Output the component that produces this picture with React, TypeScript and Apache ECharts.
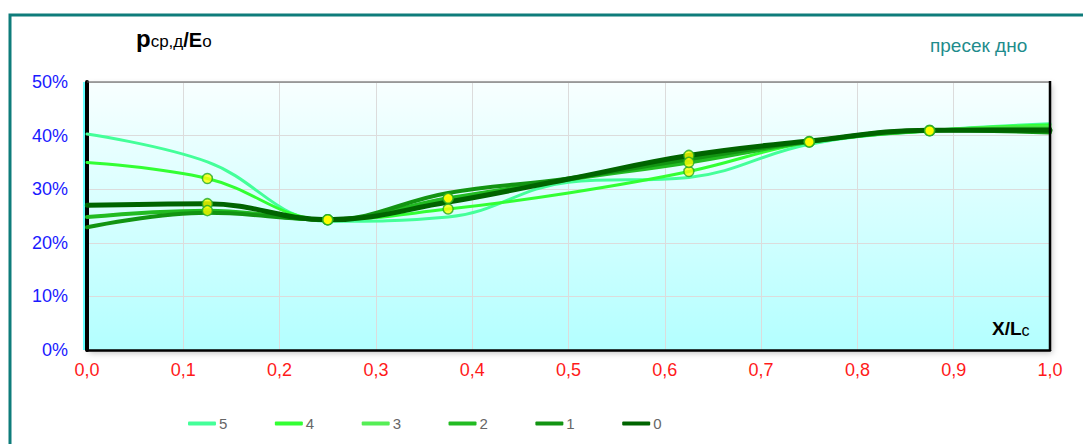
import React, { useEffect, useRef } from "react";
import * as echarts from "echarts";

const xPositions = [0, 0.125, 0.25, 0.375, 0.5, 0.625, 0.75, 0.875, 1.0];
const seriesNames = ["5", "4", "3", "2", "1", "0"];
const s5 = [40.3, 35.1, 24.0, 24.8, 31.3, 32.2, 38.4, 40.9, 42.2];
const s4 = [35.0, 32.0, 24.3, 26.3, 29.3, 33.3, 38.8, 40.9, 42.0];
const s3 = [27.0, 27.3, 24.3, 28.3, 31.8, 36.3, 38.9, 41.0, 41.6];
const s2 = [24.8, 26.0, 24.3, 28.3, 31.8, 35.0, 38.8, 40.9, 41.3];
const s1 = [22.9, 25.6, 24.3, 29.3, 32.0, 35.6, 38.9, 41.0, 40.6];
const s0 = [27.0, 27.3, 24.3, 27.6, 31.9, 36.3, 39.0, 41.0, 41.0];
const seriesValues = [s5, s4, s3, s2, s1, s0];
const seriesColors = ["#44ff99", "#33ff33", "#55ee55", "#22bb22", "#129412", "#006400"];
const seriesWidths = [3, 3, 3, 4, 4, 5];
const markerSeries = ["4", "3", "2"];
const markerIdx = [1, 2, 3, 5, 6, 7];
const yTicks = [0, 10, 20, 30, 40, 50];

export default function App() {
  const ref = useRef<HTMLDivElement>(null);
  useEffect(() => {
    if (!ref.current) return;
    const chart = echarts.init(ref.current, undefined, { renderer: "svg" });
    const lineSeries = seriesNames.map((name, i) => ({
      name,
      type: "line",
      smooth: 0.4,
      symbol: "none",
      data: xPositions.map((x, k) => [x, seriesValues[i][k]]),
      lineStyle: { color: seriesColors[i], width: seriesWidths[i], cap: "round" },
      itemStyle: { color: seriesColors[i] },
      z: 2 + i,
    }));
    const markerSer = markerSeries.map((name) => {
      const i = seriesNames.indexOf(name);
      return {
        name: "m" + name,
        type: "scatter",
        symbol: "circle",
        symbolSize: 10,
        data: markerIdx.map((k) => [xPositions[k], seriesValues[i][k]]),
        itemStyle: { color: "#ffff00", borderColor: "#22aa22", borderWidth: 1.5 },
        z: 20,
      };
    });
    chart.setOption({
      animation: false,
      grid: {
        left: 87,
        right: 33,
        top: 82,
        bottom: 94,
        show: true,
        borderWidth: 0,
        backgroundColor: {
          type: "linear",
          x: 0,
          y: 0,
          x2: 0,
          y2: 1,
          colorStops: [
            { offset: 0, color: "#f8ffff" },
            { offset: 1, color: "#b3ffff" },
          ],
        },
        shadowColor: "rgba(0,0,0,0.25)",
        shadowBlur: 6,
        shadowOffsetX: 2,
        shadowOffsetY: 3,
      },
      xAxis: {
        type: "value",
        min: 0,
        max: 1,
        interval: 0.1,
        axisLine: { show: true, onZero: false, lineStyle: { color: "#000", width: 2.5 } },
        axisTick: { show: false },
        splitLine: { show: true, lineStyle: { color: "#dcdcdc", width: 1 } },
        axisLabel: {
          color: "#ff1a1a",
          fontSize: 18,
          fontFamily: "Liberation Sans, Arial, sans-serif",
          margin: 11,
          formatter: (v: number) => v.toFixed(1).replace(".", ","),
        },
      },
      yAxis: {
        type: "value",
        min: yTicks[0],
        max: yTicks[yTicks.length - 1],
        interval: 10,
        axisLine: { show: true, onZero: false, lineStyle: { color: "#000", width: 4 } },
        axisTick: { show: false },
        splitLine: { show: true, lineStyle: { color: "#dcdcdc", width: 1 } },
        axisLabel: {
          color: "#1a1aff",
          fontSize: 18,
          fontFamily: "Liberation Sans, Arial, sans-serif",
          margin: 19,
          formatter: (v: number) => v + "%",
        },
      },
      legend: {
        data: seriesNames,
        left: 188,
        top: 416,
        padding: 0,
        icon: "roundRect",
        itemWidth: 28,
        itemHeight: 4,
        itemGap: 47.5,
        textStyle: {
          color: "#666",
          fontSize: 15,
          fontFamily: "Liberation Sans Narrow, Liberation Sans, Arial, sans-serif",
          padding: [0, 0, 0, -2],
        },
      },
      graphic: [
        {
          type: "rect",
          shape: { x: 10, y: 15, width: 1100, height: 460 },
          style: { fill: "none", stroke: "#0e7c7b", lineWidth: 3 },
          silent: true,
          z: 0,
        },
        {
          type: "line",
          shape: { x1: 87, y1: 82, x2: 1050, y2: 82 },
          style: { stroke: "#555", lineWidth: 1 },
          z: 10,
        },
        {
          type: "line",
          shape: { x1: 1050, y1: 81, x2: 1050, y2: 351 },
          style: { stroke: "#000", lineWidth: 2.5 },
          z: 10,
        },
        {
          type: "line",
          shape: { x1: 84, y1: 82, x2: 84, y2: 350 },
          style: { stroke: "#33ffff", lineWidth: 1.5 },
          z: 10,
        },
        {
          type: "text",
          x: 136,
          y: 50,
          style: {
            text: "{p|p}{s|ср,д}{b|/E}{s|о}",
            textVerticalAlign: "bottom",
            rich: {
              p: { fontSize: 24, fontWeight: "bold", fontFamily: "Liberation Sans, Arial", fill: "#000", verticalAlign: "bottom" },
              s: { fontSize: 17, fontFamily: "Liberation Sans, Arial", fill: "#000", verticalAlign: "bottom" },
              b: { fontSize: 20, fontWeight: "bold", fontFamily: "Liberation Sans, Arial", fill: "#000", verticalAlign: "bottom" },
            },
          },
          z: 10,
        },
        {
          type: "text",
          x: 930,
          y: 36,
          style: {
            text: "пресек дно",
            fontSize: 19,
            fontFamily: "Liberation Sans, Arial",
            fill: "#1e8c8c",
          },
          z: 10,
        },
        {
          type: "text",
          x: 992,
          y: 338,
          style: {
            text: "{b|X/L}{s|c}",
            textVerticalAlign: "bottom",
            rich: {
              b: { fontSize: 19, fontWeight: "bold", fontFamily: "Liberation Sans, Arial", fill: "#000", verticalAlign: "bottom" },
              s: { fontSize: 16, fontFamily: "Liberation Sans, Arial", fill: "#000", verticalAlign: "bottom" },
            },
          },
          z: 10,
        },
      ],
      series: [...lineSeries, ...markerSer],
    });
    return () => chart.dispose();
  }, []);
  return (
    <div
      ref={ref}
      style={{ position: "absolute", left: 0, top: 0, width: 1083, height: 444, background: "#fff" }}
    />
  );
}
